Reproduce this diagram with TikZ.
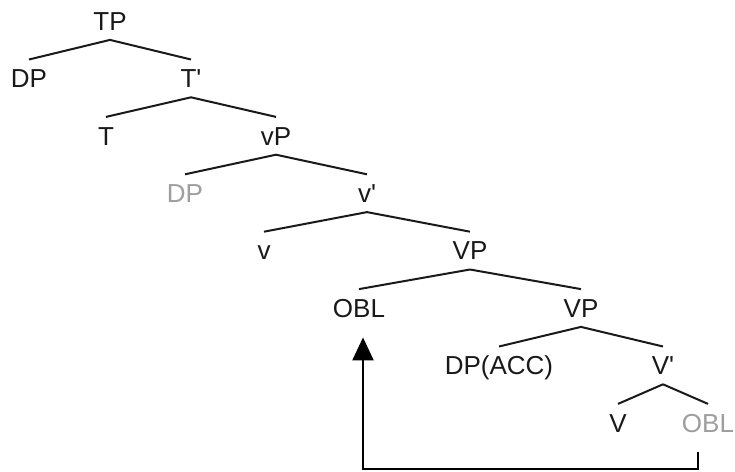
\documentclass[tikz,border=0pt]{standalone}
\usepackage{fontspec}
\setmainfont{Liberation Sans}
\usetikzlibrary{arrows.meta}
\definecolor{trace}{gray}{0.62}

\begin{document}
\begin{tikzpicture}[x=0.5pt,y=0.5pt,
    level distance=28.7pt,
    level 1/.style={sibling distance=81pt},
    level 2/.style={sibling distance=85pt},
    level 3/.style={sibling distance=91pt},
    level 4/.style={sibling distance=103pt},
    level 5/.style={sibling distance=111pt},
    level 6/.style={sibling distance=82pt},
    level 7/.style={sibling distance=45pt},
    parent anchor=south, child anchor=north,
    edge from parent/.style={draw,line width=1pt,black!90}]
\tikzset{every node/.style={font=\fontsize{13}{15}\selectfont,text height=9.3pt,
                            text depth=0pt,inner xsep=1pt,inner ysep=4.6pt,text=black!90}}
\useasboundingbox (0,0) rectangle (735,-472);
\node (tp) at (110,-21) {TP}
    child {node (dpsubj) {DP}}
    child {
        node (tbar) {T\textquotesingle}
        child {node (t) {T}}
        child {
            node (littlevp) {vP}
            child {node[text=trace] (dptrace) {DP}}
            child {
                node (littlevbar) {v\textquotesingle}
                child {node (littlev) {v}}
                child {
                    node (vpupper) {VP}
                    child {node (obla) {OBL}}
                    child {
                        node (vplower) {VP}
                        child {node (dpacc) {DP(ACC)}}
                        child {
                            node (vbar) {V\textquotesingle}
                            child {node (v) {V}}
                            child {node[text=trace] (oblb) {OBL}}
                        }
                    }
                }
            }
        }
    };
\draw[-{Triangle[length=11.5pt,width=10.5pt]},line width=1.1pt]
    ([xshift=-5pt,yshift=-5.25pt]oblb.south) -- ++(0,-8.5pt)
    -| ([xshift=2pt,yshift=-5.25pt]obla.south);
\end{tikzpicture}
\end{document}
